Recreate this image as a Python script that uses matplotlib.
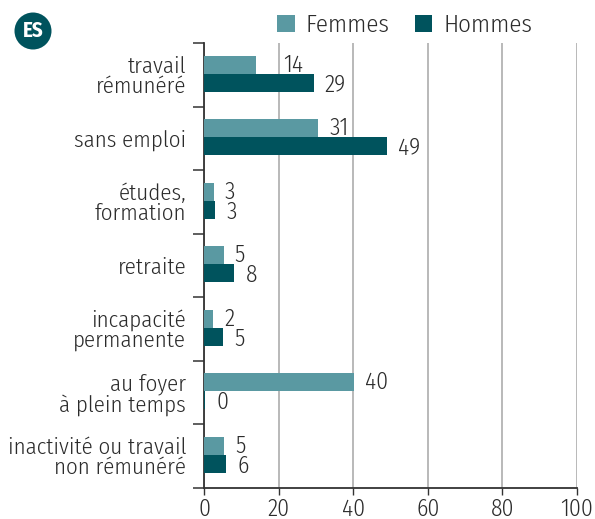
import matplotlib
matplotlib.use("Agg")
import matplotlib.pyplot as plt
from matplotlib.patches import Circle
import numpy as np

categories = ["travail\nrémunéré", "sans emploi", "études,\nformation", "retraite",
              "incapacité\npermanente", "au foyer\nà plein temps",
              "inactivité ou travail\nnon rémunéré"]
femmes = [13.8, 30.6, 2.5, 5.2, 2.4, 40.2, 5.4]
hommes = [29.3, 49.0, 3.0, 8.1, 5.1, 0.3, 5.9]
femmes_labels = ["14", "31", "3", "5", "2", "40", "5"]
hommes_labels = ["29", "49", "3", "8", "5", "0", "6"]
xticks = [0, 20, 40, 60, 80, 100]

C_F = "#5A99A2"
C_H = "#00535D"
TXT = "#2B2B2B"
FONT = ["Fira Sans Condensed", "Open Sans Condensed", "Roboto Condensed", "DejaVu Sans"]
plt.rcParams["font.family"] = FONT
plt.rcParams["font.weight"] = 300
FS = 17

fig = plt.figure(figsize=(5.95, 5.19), dpi=100)
ax = fig.add_axes([204.3 / 595, 1 - 487.7 / 519, (577 - 204.3) / 595, (487.7 - 43.3) / 519])

y = np.arange(len(categories))
h = 0.283
bf = ax.barh(y - h / 2 - 0.02, femmes, height=h, color=C_F, zorder=3)
bh = ax.barh(y + h / 2 - 0.02, hommes, height=h, color=C_H, zorder=3)

extra = {0: 16}
for i, (v, lab) in enumerate(zip(femmes, femmes_labels)):
    ax.annotate(lab, (v, y[i] - h / 2 - 0.02), xytext=(8 + extra.get(i, 0) * 0.72, 0),
                textcoords="offset points", va="center", ha="left",
                fontsize=FS, color=TXT)
for i, (v, lab) in enumerate(zip(hommes, hommes_labels)):
    ax.annotate(lab, (v, y[i] + h / 2 - 0.02), xytext=(8, -1.5),
                textcoords="offset points", va="center", ha="left",
                fontsize=FS, color=TXT)

ax.set_xlim(0, 100)
ax.set_ylim(len(categories) - 0.5, -0.5)
ax.set_xticks(xticks)
ax.set_xticklabels([str(t) for t in xticks], fontsize=FS, color=TXT)
ax.tick_params(axis="x", length=5, width=1, color="#333333", pad=2)
ax.grid(axis="x", color="#A5A5A5", linewidth=1.1, zorder=0)
ax.set_axisbelow(True)

ax.set_yticks(y)
ax.set_yticklabels(categories, fontsize=16.5, color=TXT, linespacing=0.95)
ax.tick_params(axis="y", which="major", length=0, pad=13)
ax.set_yticks(np.arange(-0.5, len(categories), 1), minor=True)
ax.tick_params(axis="y", which="minor", length=8, width=1.1, color="#333333")
for t in ax.get_yticklabels():
    t.set_multialignment("right")

for s in ["top", "right"]:
    ax.spines[s].set_visible(False)
for s in ["left", "bottom"]:
    ax.spines[s].set_color("#333333")
    ax.spines[s].set_linewidth(1.3)

# legend
ax.legend([bf, bh], ["Femmes", "Hommes"], loc="lower left",
          bbox_to_anchor=(277 / 595, 1 - 37 / 519), bbox_transform=fig.transFigure,
          ncol=2, frameon=False, fontsize=18, handlelength=0.7, handleheight=0.7,
          handletextpad=0.45, columnspacing=1.0, borderaxespad=0, borderpad=0,
          labelcolor=TXT)

# ES badge
fig.patches.append(Circle((33, 519 - 31), 18.5, transform=None, facecolor=C_H,
                          edgecolor="none"))
fig.text(33 / 595, 1 - 31 / 519, "ES", ha="center", va="center", color="white",
         fontsize=15, fontweight="bold")

fig.savefig("out.png", dpi=100)
